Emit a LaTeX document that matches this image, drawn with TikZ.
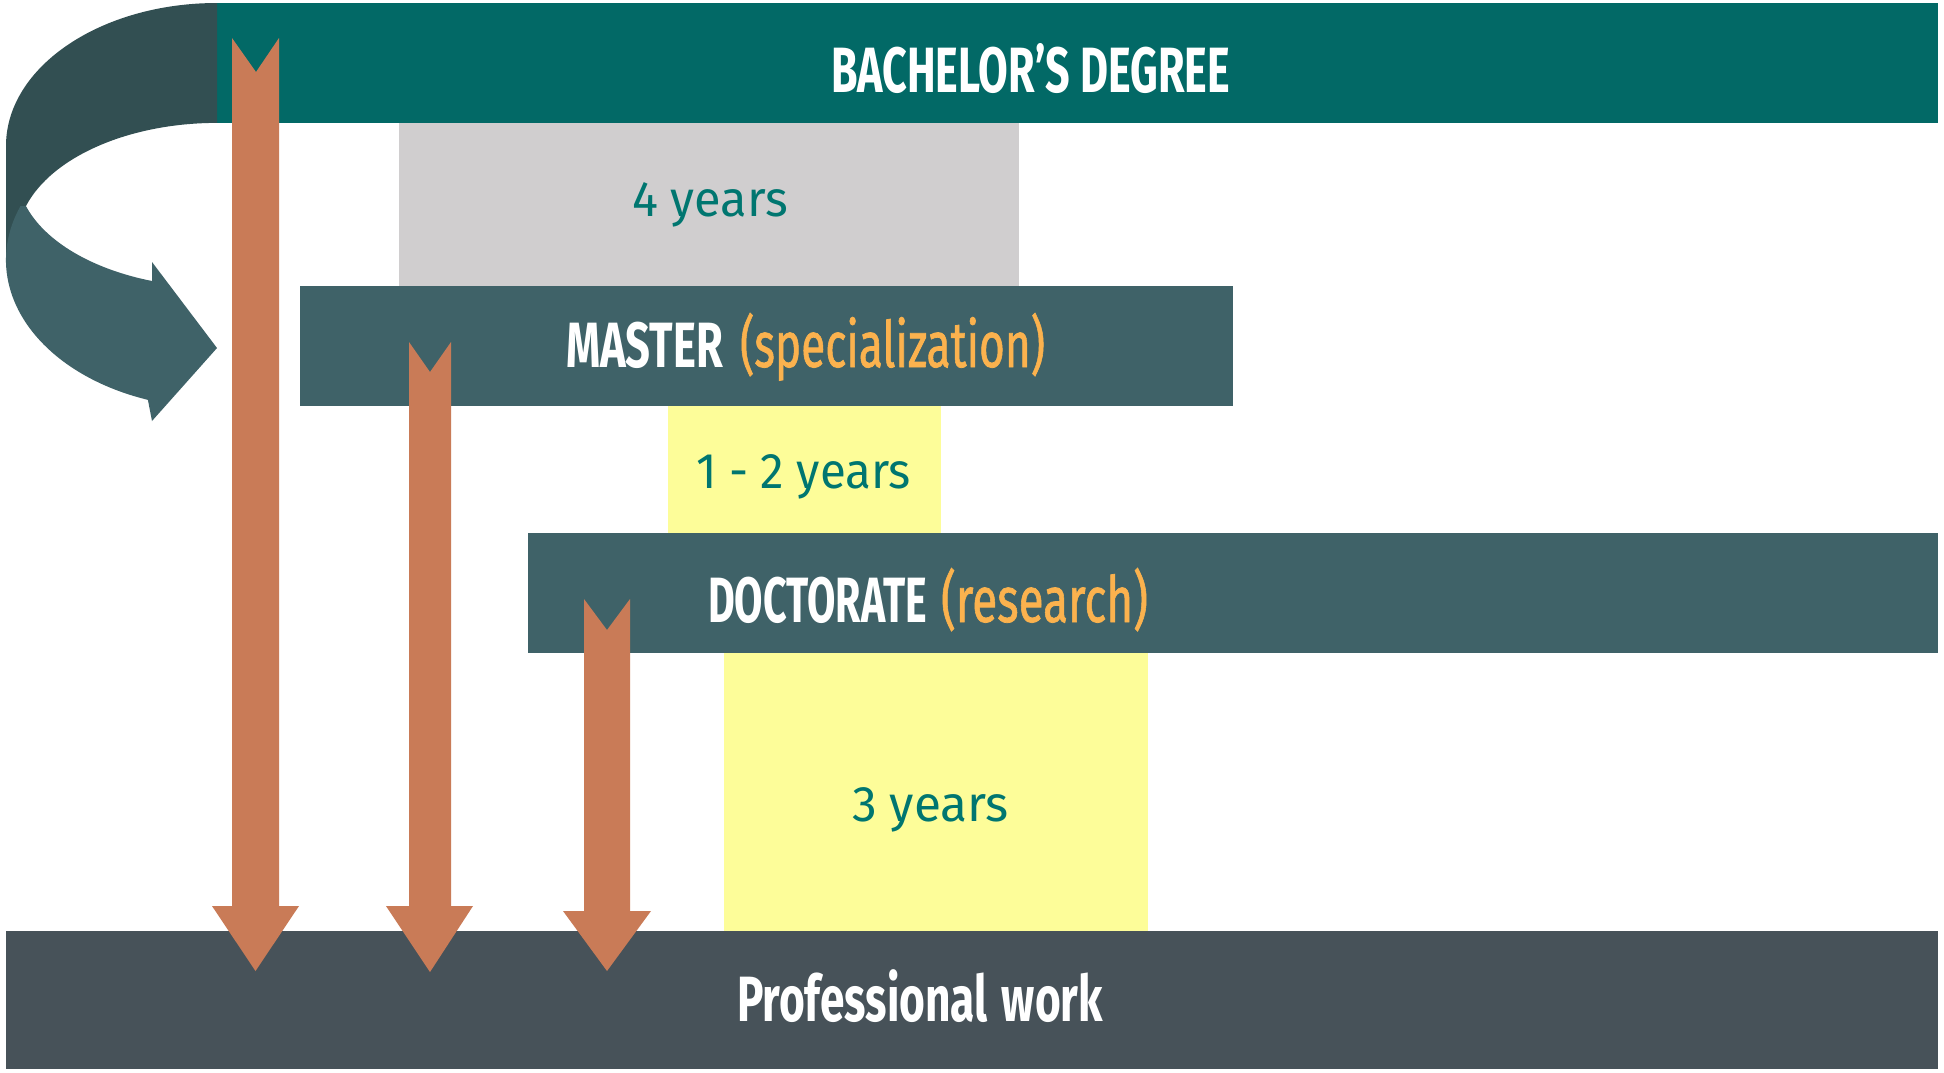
\documentclass[tikz,border=0pt]{standalone}
\usepackage{fontspec}
\setmainfont{Fira Sans}
\newfontfamily\medfont{Fira Sans}[FakeBold=1.2]
\usepackage{graphicx}
\definecolor{bachteal}{RGB}{2,105,102}
\definecolor{slate}{RGB}{63,98,104}
\definecolor{profgray}{RGB}{71,82,89}
\definecolor{curvedark}{RGB}{50,79,82}
\definecolor{curvelight}{RGB}{63,98,104}
\definecolor{graybox}{RGB}{208,206,207}
\definecolor{yellowbox}{RGB}{253,253,153}
\definecolor{arroworange}{RGB}{201,123,87}
\definecolor{textorange}{RGB}{251,178,78}
\definecolor{yearteal}{RGB}{0,118,112}
\newcommand\fitw[2]{\resizebox{#1}{\height}{#2}}
\newcommand\hdsize{\fontsize{64}{70}\selectfont}
\newcommand\yrsize{\fontsize{50}{60}\selectfont}
\begin{document}
\begin{tikzpicture}[x=1pt,y=-1pt,
  box/.style={rectangle, inner sep=0pt, outer sep=0pt, draw=none, anchor=north west},
  lbl/.style={inner sep=0pt, outer sep=0pt, anchor=base},
  lblw/.style={inner sep=0pt, outer sep=0pt, anchor=base west},
  blockarrow/.style={fill=arroworange, draw=none}]
\useasboundingbox (0,0) rectangle (1944,1072);
\fill[white] (0,0) rectangle (1944,1072);

% boxes
\node[box, fill=bachteal, minimum width=1721pt, minimum height=120pt] (bach) at (217,3) {};
\node[box, fill=graybox, minimum width=620pt, minimum height=163pt] (gray) at (399,123) {};
\node[box, fill=slate, minimum width=933pt, minimum height=120pt] (master) at (300,286) {};
\node[box, fill=yellowbox, minimum width=273pt, minimum height=127pt] (yelA) at (668,406) {};
\node[box, fill=slate, minimum width=1410pt, minimum height=120pt] (doct) at (528,533) {};
\node[box, fill=yellowbox, minimum width=424pt, minimum height=278pt] (yelB) at (724,653) {};
\node[box, fill=profgray, minimum width=1932pt, minimum height=138pt] (prof) at (6,931) {};

% texts
\node[lbl, text=white] (tbach) at (1030.5,92) {\fitw{399pt}{\hdsize\bfseries BACHELOR’S DEGREE}};
\node[lbl, text=yearteal] (tfour) at (710,216) {\fitw{156pt}{\yrsize 4 years}};
\node[lblw, text=white] (tmaster) at (566,367) {\fitw{157pt}{\hdsize\bfseries MASTER}};
\node[lblw, text=textorange] (tspec) at (740,367) {\fitw{305pt}{\hdsize\medfont (specialization)}};
\node[lbl, text=yearteal] (tonetwo) at (803.5,488) {\fitw{215pt}{\yrsize 1 - 2 years}};
\node[lblw, text=white] (tdoct) at (708,622) {\fitw{219pt}{\hdsize\bfseries DOCTORATE}};
\node[lblw, text=textorange] (tres) at (941,622) {\fitw{207pt}{\hdsize\medfont (research)}};
\node[lbl, text=yearteal] (tthree) at (930.5,821) {\fitw{157pt}{\yrsize 3 years}};
\node[lbl, text=white] (tprof) at (920,1021) {\fitw{366pt}{\hdsize\bfseries Professional\hspace{0.08em} work}};

% curved arrow (back band)
\fill[curvedark] (217,3) arc[start angle=-90, end angle=-180, x radius=211, y radius=143]
  -- (6,262) -- (26,206)
  arc[start angle=-162.8, end angle=-90, x radius=200, y radius=118] -- cycle;
% curved arrow (front band with head)
\fill[curvelight] (20.5,206) arc[start angle=201.4, end angle=109.1, x radius=211, y radius=148]
  -- (152,421) -- (217,348) -- (152,262) -- (152,281)
  arc[start angle=109, end angle=162.8, x radius=200, y radius=115] -- cycle;

% orange block arrows
\fill[blockarrow] (232,38) -- (256,72) -- (279,38) -- (279,906) -- (299,906)
  -- (255.5,971) -- (212,906) -- (232,906) -- cycle;
\fill[blockarrow] (409,342) -- (430,372) -- (451,342) -- (451,906) -- (473,906)
  -- (430,972) -- (386,906) -- (409,906) -- cycle;
\fill[blockarrow] (584,599) -- (607,630) -- (630,599) -- (630,911) -- (651,911)
  -- (607,971) -- (563,911) -- (584,911) -- cycle;
\end{tikzpicture}
\end{document}
